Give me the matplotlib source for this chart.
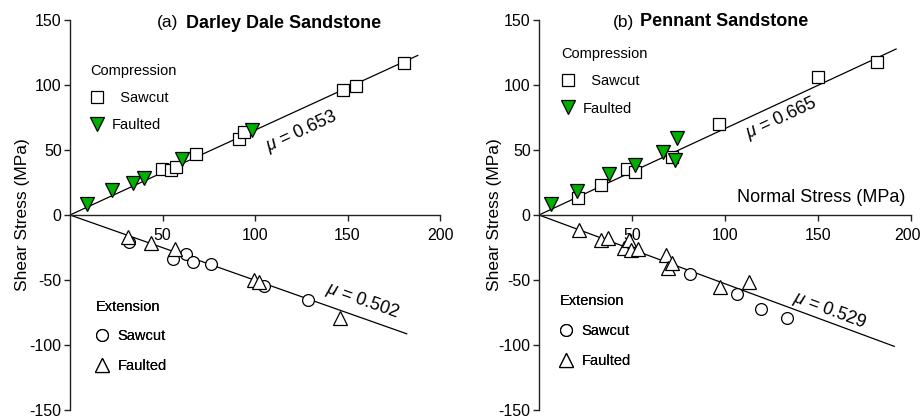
import numpy as np
import matplotlib
matplotlib.use("Agg")
import matplotlib.pyplot as plt
import matplotlib.transforms as mtransforms
from matplotlib.lines import Line2D

plt.rcParams['font.family'] = ['Liberation Sans', 'DejaVu Sans']
plt.rcParams['mathtext.fontset'] = 'custom'
plt.rcParams['mathtext.it'] = 'Liberation Sans:italic'
plt.rcParams['mathtext.rm'] = 'Liberation Sans'
plt.rcParams['axes.unicode_minus'] = False

GREEN = '#00b000'

# ---- Darley Dale Sandstone ----
dd_comp_saw_x = [49.6, 54.6, 57.1, 68.1, 91.4, 94.2, 147.4, 154.4, 180.7]
dd_comp_saw_y = [35.6, 34.4, 36.9, 47.2, 58.7, 64.1, 95.9, 99.2, 116.7]
dd_comp_flt_x = [9.4, 22.9, 33.9, 40.2, 60.7, 98.2]
dd_comp_flt_y = [8.2, 19.2, 24.4, 28.7, 42.8, 65.2]
dd_ext_saw_x = [31.9, 55.8, 62.7, 66.3, 76.1, 104.7, 128.8]
dd_ext_saw_y = [-20.5, -33.6, -30.2, -35.9, -37.5, -54.8, -65.4]
dd_ext_flt_x = [31.5, 43.6, 56.8, 99.3, 102.0, 145.9]
dd_ext_flt_y = [-16.9, -21.3, -25.9, -49.8, -51.5, -79.5]
dd_mu = [0.653, 0.502]          # compression, extension friction coefficients
dd_fit_xmax = [188, 182]

# ---- Pennant Sandstone ----
pn_comp_saw_x = [21.1, 33.3, 47.5, 51.8, 71.3, 96.9, 149.8, 181.6]
pn_comp_saw_y = [13.3, 23.1, 35.2, 33.1, 44.8, 69.8, 106.2, 117.7]
pn_comp_flt_x = [6.3, 20.6, 37.8, 51.8, 66.8, 73.1, 74.4]
pn_comp_flt_y = [8.2, 18.5, 31.3, 38.5, 48.7, 42.5, 59.5]
pn_ext_saw_x = [81.2, 106.5, 119.5, 133.2]
pn_ext_saw_y = [-45.2, -60.5, -72.5, -79.5]
pn_ext_flt_x = [21.5, 33.3, 36.9, 45.9, 48.4, 49.5, 53.1, 68.1, 69.5, 71.7, 97.3, 112.7]
pn_ext_flt_y = [-11.5, -19.2, -17.5, -25.2, -19.5, -27.2, -25.9, -31.0, -40.5, -37.2, -55.2, -51.3]
pn_mu = [0.665, 0.529]
pn_fit_xmax = [192, 191]

x_ticks = [50, 100, 150, 200]
y_ticks = [-150, -100, -50, 0, 50, 100, 150]

W, H = 922, 419
fig = plt.figure(figsize=(W / 100, H / 100), dpi=100)

def px_axes(x0, x1, ytop, ybot):
    return fig.add_axes([x0 / W, 1 - ybot / H, (x1 - x0) / W, (ybot - ytop) / H])

ax_a = px_axes(70, 440, 20, 410)
ax_b = px_axes(539, 911, 20, 410)

SPINE = '#222222'
ms_sq, ms_ci, ms_tri = 8.5, 8.5, 9.5
open_sq = dict(marker='s', ls='none', mfc='white', mec='k', mew=0.9, ms=ms_sq)
open_ci = dict(marker='o', ls='none', mfc='white', mec='k', mew=0.9, ms=ms_ci)
open_tri = dict(marker='^', ls='none', mfc='white', mec='k', mew=0.9, ms=ms_tri)
green_tri = dict(marker='v', ls='none', mfc=GREEN, mec='k', mew=0.9, ms=ms_tri)


def style_axes(ax):
    ax.set_xlim(0, 200)
    ax.set_ylim(-150, 150)
    for s in ('top', 'right'):
        ax.spines[s].set_visible(False)
    ax.spines['bottom'].set_position(('data', 0))
    for s in ('left', 'bottom'):
        ax.spines[s].set_color(SPINE)
        ax.spines[s].set_linewidth(1.0)
    ax.set_xticks(x_ticks)
    ax.set_yticks(y_ticks)
    ax.tick_params(direction='out', length=4, width=1.0, color=SPINE,
                   labelsize=11.5)
    ax.tick_params(axis='x', pad=5)
    ax.tick_params(axis='y', pad=2)
    ax.patch.set_visible(False)
    ax.set_ylabel('Shear Stress (MPa)', fontsize=12.5)


def draw_fit(ax, mu, xmax, sign):
    xs = np.array([0, xmax])
    ax.plot(xs, sign * mu * xs, color='k', lw=0.9, zorder=2)


def mu_label(ax, mu, x, y, sign):
    # on-screen angle of the fit line (axes are 370 px x 390 px for 200 x 300 units)
    ang = np.degrees(np.arctan2(sign * mu * (390 / 300), 370 / 200))
    ax.text(x, y, r'$\mu$ = %.3f' % mu, rotation=ang, rotation_mode='anchor',
            ha='center', va='center', fontsize=13)


def legends(ax, comp_anchor, ext_anchor, comp_lbls, ext_lbls, comp_sp, ext_sp):
    comp = ax.legend([Line2D([], [], **open_sq), Line2D([], [], **green_tri)],
                     comp_lbls, title='Compression', loc='upper left',
                     bbox_to_anchor=comp_anchor, frameon=False, fontsize=10.5,
                     title_fontsize=10.5, handlelength=0.9, handletextpad=0.6,
                     labelspacing=comp_sp, borderpad=0, borderaxespad=0,
                     alignment='left')
    ax.add_artist(comp)
    ext = ax.legend([Line2D([], [], **open_ci), Line2D([], [], **open_tri)],
                    ext_lbls, title='Extension', loc='upper left',
                    bbox_to_anchor=ext_anchor, frameon=False, fontsize=10.5,
                    title_fontsize=10.5, handlelength=0.9, handletextpad=0.6,
                    labelspacing=ext_sp, borderpad=0, borderaxespad=0,
                    alignment='left')
    ax.add_artist(ext)


# Panel (a)
style_axes(ax_a)
draw_fit(ax_a, dd_mu[0], dd_fit_xmax[0], 1)
draw_fit(ax_a, dd_mu[1], dd_fit_xmax[1], -1)
ax_a.plot(dd_comp_saw_x, dd_comp_saw_y, **open_sq, zorder=3, clip_on=False)
ax_a.plot(dd_comp_flt_x, dd_comp_flt_y, **green_tri, zorder=4, clip_on=False)
ax_a.plot(dd_ext_saw_x, dd_ext_saw_y, **open_ci, zorder=3, clip_on=False)
ax_a.plot(dd_ext_flt_x, dd_ext_flt_y, **open_tri, zorder=4, clip_on=False)
mu_label(ax_a, dd_mu[0], 125.4, 64.6, 1)
mu_label(ax_a, dd_mu[1], 158.4, -66.2, -1)
ax_a.yaxis.set_label_coords(-0.108, 0.5)
legends(ax_a, (0.055, 0.888), (0.07, 0.282), ['  Sawcut', 'Faulted'],
        ['Sawcut', 'Faulted'], 0.9, 1.05)

# Panel (b)
style_axes(ax_b)
draw_fit(ax_b, pn_mu[0], pn_fit_xmax[0], 1)
draw_fit(ax_b, pn_mu[1], pn_fit_xmax[1], -1)
ax_b.plot(pn_comp_saw_x, pn_comp_saw_y, **open_sq, zorder=3, clip_on=False)
ax_b.plot(pn_comp_flt_x, pn_comp_flt_y, **green_tri, zorder=4, clip_on=False)
ax_b.plot(pn_ext_saw_x, pn_ext_saw_y, **open_ci, zorder=3, clip_on=False)
ax_b.plot(pn_ext_flt_x, pn_ext_flt_y, **open_tri, zorder=4, clip_on=False)
mu_label(ax_b, pn_mu[0], 130.6, 74.6, 1)
mu_label(ax_b, pn_mu[1], 156.5, -73.8, -1)
ax_b.yaxis.set_label_coords(-0.1, 0.5)
legends(ax_b, (0.06, 0.93), (0.055, 0.297), ['  Sawcut', 'Faulted'],
        ['Sawcut', 'Faulted'], 0.9, 1.1)
ax_b.text(196.8, 13.3, 'Normal Stress (MPa)', ha='right', va='center', fontsize=13)

# keep the last tick label of panel (b) inside the canvas
fig.canvas.draw()
last = ax_b.get_xticklabels()[-1]
last.set_transform(last.get_transform() +
                   mtransforms.ScaledTranslation(-4 / 100, 0, fig.dpi_scale_trans))

# Panel titles: plain tag followed by bold rock name
fig.text(157 / W, 1 - 23 / H, '(a)', ha='left', va='center', fontsize=12.5)
fig.text(185.5 / W, 1 - 23 / H, 'Darley Dale Sandstone', ha='left', va='center',
         fontsize=13, fontweight='bold')
fig.text(612.5 / W, 1 - 22 / H, '(b)', ha='left', va='center', fontsize=12.5)
fig.text(640 / W, 1 - 22 / H, 'Pennant Sandstone', ha='left', va='center',
         fontsize=13, fontweight='bold')

fig.savefig('out.png', dpi=100)
